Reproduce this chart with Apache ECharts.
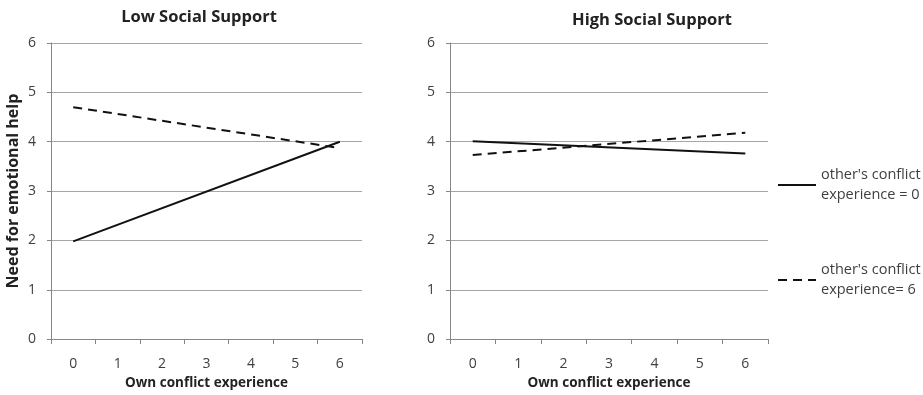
<!DOCTYPE html>
<html>
<head>
<meta charset="utf-8">
<script src="https://cdn.jsdelivr.net/npm/echarts@6/dist/echarts.min.js"></script>
<style>
html,body{margin:0;padding:0;background:#fff;}
#chart{width:923px;height:395px;}
</style>
</head>
<body>
<div id="chart"></div>
<script>
// ---- data ----
var categories = ['0', '1', '2', '3', '4', '5', '6'];
var lowSolid  = [1.98, null, null, null, null, null, 4.00];
var lowDashed = [4.70, null, null, null, null, null, 3.87];
var highSolid = [4.01, null, null, null, null, null, 3.76];
var highDashed= [3.73, null, null, null, null, null, 4.18];
var yTicks = [0, 1, 2, 3, 4, 5, 6];
var titles = ['Low Social Support', 'High Social Support'];
var xTitle = 'Own conflict experience';
var yTitle = 'Need for emotional help';
var name0 = "other's conflict\nexperience = 0";
var name6 = "other's conflict\nexperience= 6";

var FONT = 'Open Sans';
var chart = echarts.init(document.getElementById('chart'));

function xAxisCfg(gi) {
  return {
    type: 'category', gridIndex: gi, data: categories, boundaryGap: true,
    axisLine: {lineStyle: {color: '#868686', width: 1}},
    axisTick: {show: true, length: 5, lineStyle: {color: '#868686'}},
    axisLabel: {color: '#404040', fontSize: 14, fontFamily: FONT, margin: 18},
    name: xTitle, nameLocation: 'middle', nameGap: 32,
    nameTextStyle: {color: '#222', fontSize: 13.5, fontWeight: 'bold', fontFamily: FONT},
    splitLine: {show: false}
  };
}
function yAxisCfg(gi, withName) {
  var c = {
    type: 'value', gridIndex: gi, min: yTicks[0], max: yTicks[yTicks.length - 1], interval: 1,
    axisLine: {show: true, lineStyle: {color: '#868686', width: 1}},
    axisTick: {show: true, length: 4, lineStyle: {color: '#868686'}},
    axisLabel: {color: '#404040', fontSize: 14, fontFamily: FONT, margin: 15},
    splitLine: {show: true, lineStyle: {color: '#a6a6a6', width: 1}}
  };
  if (withName) {
    c.name = yTitle; c.nameLocation = 'middle'; c.nameGap = 30;
    c.nameTextStyle = {color: '#222', fontSize: 16, fontWeight: 'bold', fontFamily: FONT};
  }
  return c;
}
function lineSeries(name, gi, data, dashed) {
  return {
    type: 'line', name: name, xAxisIndex: gi, yAxisIndex: gi, data: data,
    connectNulls: true, symbol: 'none', silent: true,
    lineStyle: {color: '#111', width: 2, type: dashed ? [9, 6] : 'solid'},
    itemStyle: {color: '#111'}
  };
}
var legendText = {color: '#404040', fontSize: 14.5, fontFamily: FONT, lineHeight: 20, padding: [20, 0, 0, 0]};
var legendCommon = {padding: 0, itemWidth: 38, itemHeight: 14, itemGap: 4, selectedMode: false,
  textStyle: legendText,
  itemStyle: {color: 'rgba(0,0,0,0)', borderColor: 'rgba(0,0,0,0)', borderWidth: 0},
  lineStyle: {color: '#111', width: 2}};

chart.setOption({
  animation: false,
  title: [
    {text: titles[0], left: 194, top: 4, textAlign: 'center',
     textStyle: {fontSize: 16.5, fontWeight: 'bold', color: '#222', fontFamily: FONT}},
    {text: titles[1], left: 647, top: 7, textAlign: 'center',
     textStyle: {fontSize: 16.5, fontWeight: 'bold', color: '#222', fontFamily: FONT}}
  ],
  grid: [
    {left: 51, top: 43, width: 311, height: 300},
    {left: 450, top: 43, width: 318, height: 300}
  ],
  xAxis: [xAxisCfg(0), xAxisCfg(1)],
  yAxis: [yAxisCfg(0, true), yAxisCfg(1, false)],
  legend: [
    Object.assign({data: [name0], left: 777, top: 155}, legendCommon),
    Object.assign({data: [name6], left: 777, top: 250}, legendCommon)
  ],
  series: [
    lineSeries(name0, 0, lowSolid, false),
    lineSeries(name6, 0, lowDashed, true),
    lineSeries(name0, 1, highSolid, false),
    lineSeries(name6, 1, highDashed, true)
  ]
});
</script>
</body>
</html>
